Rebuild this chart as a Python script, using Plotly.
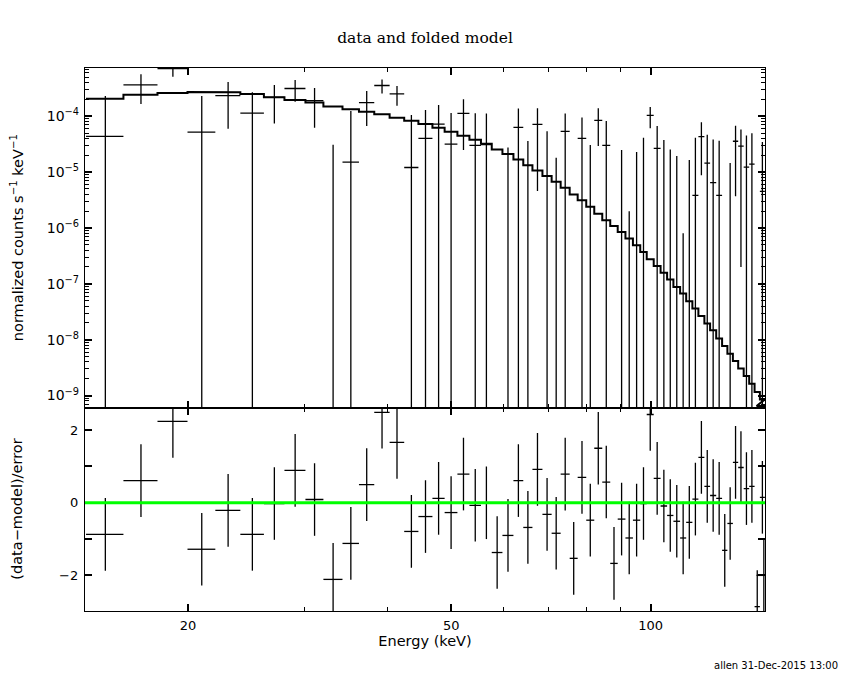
import math

import plotly.graph_objects as go

# bin edges (keV)
energy_lo = [14.03, 15.98, 17.99, 19.97, 22.00, 24.00, 26.05, 27.98, 30.10, 32.04,
             34.24, 36.26, 38.24, 40.34, 42.44, 44.59, 46.82, 48.85, 51.07, 53.25,
             55.43, 57.55, 59.73, 62.06, 64.22, 66.30, 68.65, 70.88, 73.14, 75.47,
             77.60, 79.95, 82.21, 84.53, 86.91, 89.20, 91.63, 94.05, 96.47, 98.67,
             101.10, 103.55, 105.92, 108.27, 110.82, 113.19, 115.66, 118.10, 120.59, 123.01,
             125.65, 128.25, 130.64, 133.16, 135.64, 138.26, 140.93, 143.60, 146.27, 144.60]
energy_hi = [15.98, 17.99, 19.97, 22.00, 24.00, 26.05, 27.98, 30.10, 32.04, 34.24,
             36.26, 38.24, 40.34, 42.44, 44.59, 46.82, 48.85, 51.07, 53.25, 55.43,
             57.55, 59.73, 62.06, 64.22, 66.30, 68.65, 70.88, 73.14, 75.47, 77.60,
             79.95, 82.21, 84.53, 86.91, 89.20, 91.63, 94.05, 96.47, 98.67, 101.10,
             103.55, 105.92, 108.27, 110.82, 113.19, 115.66, 118.10, 120.59, 123.01, 125.65,
             128.25, 130.64, 133.16, 135.64, 138.26, 140.93, 143.60, 146.27, 148.84, 152.00]

# normalized counts s^-1 keV^-1
counts = [4.37e-5, 3.65e-4, 7.1e-4, 5.21e-5, 2.35e-4, 1.14e-4, 2.18e-4, 3.14e-4, 1.91e-4, -7.7e-5,
          1.51e-5, 1.75e-4, 3.55e-4, 2.51e-4, 1.21e-5, 4.02e-5, 7.24e-5, 3.18e-5, 1.13e-4, 3.01e-5,
          3.1e-5, -7.7e-5, -3.93e-5, 6.32e-5, -3.5e-5, 7.16e-5, -1.3e-5, -5.1e-5, 5.36e-5, -9.1e-5,
          4.02e-5, -2.35e-5, 8.44e-5, 3.0e-5, -7.9e-5, -1.87e-5, -4.3e-5, -2.0e-5, -5e-7, 1.04e-4,
          2.66e-5, -3.5e-6, -1.37e-5, -2.0e-5, -3.72e-5, -1.93e-5, 3.82e-6, 4.33e-5, 1.45e-5, 6.5e-6,
          3.82e-6, -4.45e-5, -1.94e-5, 3.57e-5, 2.92e-5, 1.23e-5, 1.39e-5, -9.4e-5, 4.5e-6, -6.4e-5]
counts_err = [1.87e-4, 2.0e-4, 2.0e-4, 1.78e-4, 1.75e-4, 1.54e-4, 1.44e-4, 1.32e-4, 1.29e-4, 1.08e-4,
              1.09e-4, 1.08e-4, 0.99e-4, 0.97e-4, 9.3e-5, 8.9e-5, 8.7e-5, 8.2e-5, 8.8e-5, 8.3e-5,
              8.1e-5, 7.5e-5, 6.7e-5, 7.5e-5, 7.1e-5, 6.7e-5, 6.7e-5, 6.9e-5, 5.9e-5, 6.2e-5,
              5.5e-5, 5.4e-5, 5.5e-5, 5.2e-5, 4.8e-5, 4.35e-5, 4.5e-5, 4.3e-5, 4.17e-5, 4.3e-5,
              4.0e-5, 4.1e-5, 3.9e-5, 3.94e-5, 3.8e-5, 3.57e-5, 3.74e-5, 3.45e-5, 3.2e-5, 3.2e-5,
              3.26e-5, 3.4e-5, 3.4e-5, 3.2e-5, 2.9e-5, 3.3e-5, 3.55e-5, 3.3e-5, 3.0e-5, 3.2e-5]
model = [2.06e-4, 2.43e-4, 2.61e-4, 2.72e-4, 2.68e-4, 2.50e-4, 2.18e-4, 1.95e-4, 1.77e-4, 1.50e-4,
         1.33e-4, 1.20e-4, 1.09e-4, 9.4e-5, 8.3e-5, 7.24e-5, 6.22e-5, 5.27e-5, 4.47e-5, 3.80e-5,
         3.22e-5, 2.55e-5, 2.10e-5, 1.69e-5, 1.33e-5, 1.07e-5, 8.5e-6, 6.7e-6, 5.23e-6, 3.98e-6,
         3.15e-6, 2.39e-6, 1.80e-6, 1.38e-6, 1.08e-6, 8.5e-7, 6.5e-7, 4.9e-7, 3.73e-7, 2.76e-7,
         2.09e-7, 1.57e-7, 1.19e-7, 8.8e-8, 6.7e-8, 4.88e-8, 3.6e-8, 2.66e-8, 1.95e-8, 1.47e-8,
         1.05e-8, 7.7e-9, 5.6e-9, 4.15e-9, 3.03e-9, 2.23e-9, 1.63e-9, 1.16e-9, 8.5e-10, 6.5e-10]

# (data-model)/error
residual = [-0.87, 0.61, 2.24, -1.28, -0.21, -0.87, -0.02, 0.89, 0.09, -2.11,
            -1.12, 0.50, 2.49, 1.66, -0.79, -0.38, 0.12, -0.27, 0.79, -0.07,
            0.0, -1.37, -0.90, 0.61, -0.68, 0.92, -0.32, -0.84, 0.79, -1.53,
            0.70, -0.48, 1.50, 0.57, -1.67, -0.45, -0.97, -0.48, -0.02, 2.43,
            0.67, -0.09, -0.35, -0.51, -0.97, -0.54, 0.10, 1.25, 0.45, 0.20,
            0.12, -1.31, -0.57, 1.11, 0.97, 0.39, 0.45, -2.86, 0.15, -2.0]

x_ticks = [20, 50, 100]
x_labels = ["20", "50", "100"]
x_minor = [30, 40, 60, 70, 80, 90]
y_decades = [1e-9, 1e-8, 1e-7, 1e-6, 1e-5, 1e-4]
y_labels = ["10<sup>\u22129</sup>", "10<sup>\u22128</sup>", "10<sup>\u22127</sup>",
            "10<sup>\u22126</sup>", "10<sup>\u22125</sup>", "10<sup>\u22124</sup>"]
y_minor = [m * 10.0 ** p for p in range(-10, -3) for m in range(2, 10)]
res_ticks = [-2, -1, 0, 1, 2]
res_labels = ["\u22122", "", "0", "", "2"]

# crosses for the data
dx, dy = [], []
for lo, hi, v, e in zip(energy_lo, energy_hi, counts, counts_err):
    c = (lo + hi) / 2
    if v > 0:
        dx += [lo, hi, None]
        dy += [v, v, None]
    if v + e > 0:
        bottom = v - e if v - e > 0 else 1e-12
        dx += [c, c, None]
        dy += [bottom, v + e, None]

# model histogram
mx, my = [], []
for lo, hi, m in zip(energy_lo, energy_hi, model):
    mx += [lo, hi]
    my += [m, m]

# residual crosses
rx, ry = [], []
for lo, hi, r in zip(energy_lo, energy_hi, residual):
    c = (lo + hi) / 2
    rx += [lo, hi, None, c, c, None]
    ry += [r, r, None, r - 1, r + 1, None]

fig = go.Figure()
fig.add_trace(go.Scatter(x=dx, y=dy, mode="lines", line=dict(color="black", width=1.3),
                         xaxis="x2", yaxis="y2", hoverinfo="skip"))
fig.add_trace(go.Scatter(x=mx, y=my, mode="lines", line=dict(color="black", width=2),
                         xaxis="x2", yaxis="y2", hoverinfo="skip"))
fig.add_trace(go.Scatter(x=rx, y=ry, mode="lines", line=dict(color="black", width=1.3),
                         xaxis="x", yaxis="y", hoverinfo="skip"))
fig.add_shape(type="line", xref="x domain", yref="y", x0=0, x1=1, y0=0, y1=0,
              line=dict(color="#00ff00", width=3))

sans = dict(family="DejaVu Sans", size=13, color="black")
label_font = dict(family="DejaVu Sans", size=14.5, color="black")
xr = [math.log10(13.98), math.log10(148.9)]
common_x = dict(type="log", range=xr, showline=True, linecolor="black", linewidth=1.3,
                mirror="allticks", ticks="inside", ticklen=7, tickwidth=1.5, tickcolor="black",
                tickvals=x_ticks, ticktext=x_labels, showgrid=False, zeroline=False,
                tickfont=sans, ticklabelstandoff=2,
                minor=dict(tickvals=x_minor, ticks="inside", ticklen=4, tickwidth=1,
                           tickcolor="black", showgrid=False))
split = 0.3733

# the page has an 8px body margin: the figure is made smaller and shifted so
# that it fits in the window without scrollbars
fig.update_layout(
    width=834, height=664,
    margin=dict(l=77, r=77, t=60, b=61),
    paper_bgcolor="white", plot_bgcolor="white",
    showlegend=False, font=sans,
    title=dict(text="data and folded model", x=(425 - 8) / 834, xanchor="center",
               y=1 - 30 / 664, yanchor="middle",
               font=dict(family="DejaVu Serif", size=15.5, color="black")),
    xaxis=dict(common_x, domain=[0, 1], anchor="y",
               title=dict(text="Energy (keV)", standoff=4, font=label_font)),
    xaxis2=dict(common_x, domain=[0, 1], anchor="y2", matches="x", showticklabels=False),
    yaxis=dict(domain=[0, split], range=[-2.98, 2.60], showline=True, linecolor="black",
               linewidth=1.3, mirror="allticks", ticks="inside", ticklen=7, tickwidth=1.5,
               tickcolor="black", tickvals=res_ticks, ticktext=res_labels, tickfont=sans,
               ticklabelstandoff=3, showgrid=False, zeroline=False),
    yaxis2=dict(domain=[split, 1], type="log", range=[-9.229, -3.136], showline=True,
                linecolor="black", linewidth=1.3, mirror="allticks", ticks="inside",
                ticklen=7, tickwidth=1.5, tickcolor="black", tickvals=y_decades,
                ticktext=y_labels, tickfont=dict(sans, size=14), ticklabelstandoff=2,
                showgrid=False, zeroline=False,
                minor=dict(tickvals=y_minor, ticks="inside", ticklen=4, tickwidth=1,
                           tickcolor="black", showgrid=False)),
)

fig.add_annotation(text="normalized counts s<sup>\u22121</sup> keV<sup>\u22121</sup>",
                   xref="paper", yref="paper", x=-68 / 680, y=(1 + split) / 2,
                   xanchor="center", yanchor="middle", textangle=-90, showarrow=False,
                   font=label_font)
fig.add_annotation(text="(data\u2212model)/error",
                   xref="paper", yref="paper", x=-68 / 680, y=split / 2,
                   xanchor="center", yanchor="middle", textangle=-90, showarrow=False,
                   font=label_font)
fig.add_annotation(text="allen 31-Dec-2015 13:00", xref="paper", yref="paper",
                   x=(840 - 85) / 680, y=-(665 - 611) / 543, xanchor="right",
                   yanchor="middle", showarrow=False,
                   font=dict(family="DejaVu Sans", size=10, color="black"))

fig.write_html("out.html")
